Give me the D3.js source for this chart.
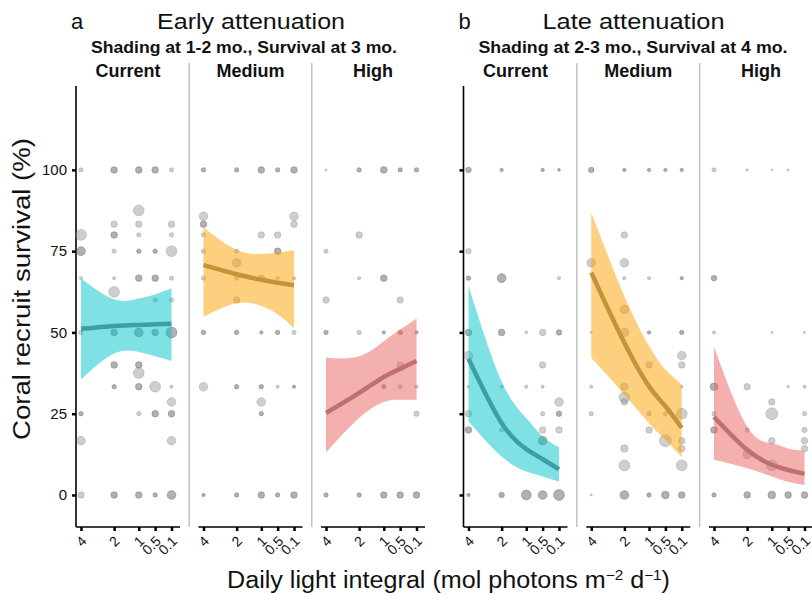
<!DOCTYPE html>
<html>
<head>
<meta charset="utf-8">
<script src="https://cdn.jsdelivr.net/npm/d3@7"></script>
<style>
  body { margin: 0; background: #fff; }
  text { font-family: "Liberation Sans", Arial, Helvetica, sans-serif; fill: #111; }
</style>
</head>
<body>
<div id="vis"></div>
<script>
// ---- data ----
var timings = ["Early attenuation", "Late attenuation"];
var panelLetters = ["a", "b"];
var subtitles = ["Shading at 1-2 mo., Survival at 3 mo.", "Shading at 2-3 mo., Survival at 4 mo."];
var shadeLevels = ["Current", "Medium", "High"];
var dliTicks = [4, 2, 1, 0.5, 0.1];
var survivalTicks = [0, 25, 50, 75, 100];

// fitted survival (%) and 95% band at each value of dliTicks, per shade level
var fitEarly  = [[51.1, 52.0, 52.3, 52.5, 52.7], [70.7, 67.9, 66.2, 65.3, 64.5], [25.2, 31.4, 36.3, 38.8, 41.2]];
var lowEarly  = [[35.5, 43.5, 44.0, 42.7, 41.2], [54.8, 59.0, 58.1, 55.6, 51.4], [13.1, 23.7, 28.6, 29.3, 29.3]];
var highEarly = [[66.6, 60.2, 60.4, 61.7, 63.6], [82.3, 75.4, 74.1, 74.6, 75.3], [42.2, 42.7, 47.3, 50.9, 54.3]];
var fitLate   = [[41.9, 22.1, 14.1, 11.0, 7.9], [68.4, 46.8, 33.4, 27.3, 20.6], [24.0, 13.9, 9.3, 7.7, 6.5]];
var lowLate   = [[22.6, 11.8, 7.2, 5.7, 4.1], [42.2, 30.9, 22.1, 17.0, 11.6], [10.8, 8.2, 5.7, 4.1, 3.1]];
var highLate  = [[64.3, 35.0, 23.7, 18.0, 14.7], [86.9, 61.2, 45.8, 38.6, 34.0], [45.6, 21.1, 15.9, 14.3, 13.6]];

// observed tiles: [dli, survival %, size class, overlapping tiles]
var pointsEarlyCurrent = [
  [4,100,2,1],[2,100,3,2],[1,100,3,2],[0.5,100,3,2],[0.1,100,2,1],
  [1,87.5,5,1],
  [2,83.3,3,1],[1,83.3,3,1],[0.1,83.3,3,1],
  [4,80,5,1],[2,80,3,2],[1,80,2,1],[0.1,80,2,1],
  [4,75,4,2],[2,75,2,1],[1,75,2,2],[0.5,75,2,2],[0.1,75,5,1],
  [4,66.7,1.5,1],[2,66.7,1.5,1],[1,66.7,3,2],[0.5,66.7,3,2],[0.1,66.7,2,1],
  [2,62.5,5,1],
  [0.5,60,2,1],[0.1,60,2,1],
  [4,50,2,1],[2,50,3,2],[1,50,4,2],[0.5,50,3,2],[0.1,50,5,2],
  [2,40,3,2],[1,40,3,2],
  [1,37.5,5,1],
  [2,33.3,2,2],[1,33.3,3,2],[0.5,33.3,5,1],[0.1,33.3,1.5,1],
  [0.1,28.6,4,1],
  [4,25,2,2],[1,25,2,1],[0.5,25,3,2],[0.1,25,3,2],
  [4,16.7,4,1],[0.1,16.7,4,1],
  [4,0,3,1],[2,0,3,2],[1,0,3,2],[0.5,0,2,2],[0.1,0,4,2]
];
var pointsEarlyMedium = [
  [4,100,2,2],[2,100,2,2],[1,100,3,2],[0.5,100,2,2],[0.1,100,3,2],
  [4,85.7,4,1],[0.1,85.7,4,1],
  [4,83.3,3,2],[0.1,83.3,3,1],
  [4,80,2,1],[1,80,3,1],[0.5,80,3,1],
  [4,75,2,1],[2,75,2,1],[0.5,75,3,2],
  [2,71.4,4,1],
  [4,66.7,2,1],[2,66.7,2,1],[1,66.7,3,1],[0.5,66.7,1.5,1],[0.1,66.7,1.5,1],
  [2,60,3,1],
  [4,50,2,2],[2,50,2,2],[1,50,1.5,2],[0.5,50,2,2],[0.1,50,2,1],
  [4,33.3,4,1],[2,33.3,2,2],[1,33.3,2,2],[0.5,33.3,1.5,1],[0.1,33.3,1.5,2],
  [1,28.6,4,1],
  [1,25,2,2],
  [4,0,1.5,2],[2,0,2,2],[1,0,3,2],[0.5,0,2,2],[0.1,0,3,2]
];
var pointsEarlyHigh = [
  [4,100,1,1],[2,100,2,2],[1,100,3,2],[0.5,100,2,2],[0.1,100,2,2],
  [2,80,3,1],
  [4,75,2,1],
  [2,66.7,1.5,1],[1,66.7,3,2],
  [4,60,3,1],[0.5,60,3,1],
  [4,50,2,2],[2,50,2,1],[1,50,1.5,2],[0.5,50,2,2],[0.1,50,1.5,2],
  [0.5,40,3,1],
  [1,33.3,2,2],[0.5,33.3,2,1],[0.1,33.3,1.5,1],
  [0.1,25,2.5,1],
  [4,0,2,2],[2,0,2,2],[1,0,3,2],[0.5,0,3,2],[0.1,0,3,2]
];
var pointsLateCurrent = [
  [4,100,2.5,2],[2,100,1.5,2],[0.5,100,1.5,2],[0.1,100,1.2,2],
  [4,75,2.5,1],
  [4,66.7,2,2],[2,66.7,4,2],[0.1,66.7,1.5,1],
  [4,50,3,2],[2,50,3,2],[1,50,1.2,1],[0.5,50,3,1],[0.1,50,2.5,2],
  [4,42.9,4,1],
  [0.5,40,3,1],
  [4,33.3,1.2,1],[2,33.3,1.5,1],[1,33.3,1.5,1],[0.5,33.3,1.5,1],
  [0.1,28.6,4,1],
  [4,25,3,1],[0.5,25,2,1],[0.1,25,2.5,2],
  [4,20,3,2],[2,20,2,1],[0.5,20,3,1],[0.1,20,3,1],
  [0.5,16.7,4,2],
  [4,0,1.5,2],[2,0,2.5,2],[1,0,4.5,2],[0.5,0,4,2],[0.1,0,5,2]
];
var pointsLateMedium = [
  [4,100,2.5,2],[2,100,1.5,2],[1,100,1.5,2],[0.5,100,1.5,2],[0.1,100,1.5,2],
  [2,80,3,1],
  [4,71.4,4,1],[2,71.4,4,1],
  [2,66.7,1.5,1],[1,66.7,1.5,1],[0.1,66.7,1.5,2],
  [2,57.1,4,1],
  [4,50,1,1],[2,50,4,1],[1,50,1.5,2],[0.1,50,2,2],
  [0.1,42.9,4,1],
  [1,40,3,1],[0.1,40,3,1],
  [4,33.3,1.5,1],[2,33.3,3.5,1],[1,33.3,1.5,1],[0.1,33.3,1.2,1],
  [2,30,5,1],
  [2,28.6,3,1],
  [4,25,2,1],[1,25,2,1],[0.5,25,2,1],[0.1,25,5,1],
  [1,20,3,1],
  [0.5,16.7,5.5,1],[0.1,16.7,3,1],
  [2,14.3,3.5,1],[0.1,14.3,3,1],
  [2,9.1,5,1],[0.1,9.1,5,1],
  [4,0,1,1],[2,0,4,2],[1,0,2,2],[0.5,0,3.5,2],[0.1,0,3,2]
];
var pointsLateHigh = [
  [4,100,2,1],[2,100,1,1],[1,100,0.8,1],[0.5,100,1,1],
  [4,66.7,2.5,2],
  [4,50,1.5,1],[1,50,1,1],[0.1,50,1,1],
  [4,33.3,3.5,2],[2,33.3,3,1],[0.5,33.3,1.2,1],[0.1,33.3,1.5,1],
  [1,28.6,3,1],
  [4,25,2,1],[1,25,5.5,1],[0.1,25,2,1],
  [4,20,3,2],[2,20,2,1],[0.1,20,2.5,1],
  [1,16.7,3,1],[0.1,16.7,3,1],
  [0.1,14.3,3,1],
  [2,12.5,4,1],
  [1,9.1,5,1],
  [4,0,2,2],[2,0,3,2],[1,0,3.5,2],[0.5,0,3,2],[0.1,0,3,2]
];

var pointSets = [
  [pointsEarlyCurrent, pointsEarlyMedium, pointsEarlyHigh],
  [pointsLateCurrent, pointsLateMedium, pointsLateHigh]
];
var fits = [[fitEarly, lowEarly, highEarly], [fitLate, lowLate, highLate]];

var bandColors = ["#00c4c9", "#fba100", "#e95f5f"];
var lineColors = ["#3c9fa1", "#c6923a", "#bf7070"];

// ---- layout ----
var width = 812, height = 595;
var groupLeft = [76, 463.5];
var panelStep = [122.5, 122.75];
var panelWidth = 104;
var plotTop = 86, plotBottom = 527;

var svg = d3.select("#vis").append("svg")
    .attr("width", width)
    .attr("height", height);

var y = d3.scaleLinear().domain([-9.85, 125.8]).range([plotBottom, plotTop]);
var r = d3.scaleLinear().domain([1, 5]).range([1.1, 5.4]);
var smooth = d3.curveNatural;

var line = function(x, vals) {
    return d3.line()
        .x(function(d, i) { return x(dliTicks[i]); })
        .y(function(d) { return y(d); })
        .curve(smooth)(vals);
};

timings.forEach(function(title, t) {
    var gl = groupLeft[t];

    // panel letter, title and subtitle
    svg.append("text").attr("x", gl + 1).attr("y", 29)
        .attr("text-anchor", "middle").style("font-size", "22px").text(panelLetters[t]);
    svg.append("text").attr("x", t == 0 ? 251 : 633.5).attr("y", 29)
        .attr("text-anchor", "middle").style("font-size", "22px")
        .attr("textLength", t == 0 ? 188 : 182).attr("lengthAdjust", "spacingAndGlyphs")
        .text(title);
    svg.append("text").attr("x", t == 0 ? 244 : 633).attr("y", 53)
        .attr("text-anchor", "middle").style("font-size", "16px").style("font-weight", "bold")
        .attr("textLength", t == 0 ? 306 : 309).attr("lengthAdjust", "spacingAndGlyphs")
        .text(subtitles[t]);

    // y axis
    var yAxis = d3.axisLeft(y).tickValues(survivalTicks).tickSize(4).tickPadding(5)
        .tickFormat(t == 0 ? d3.format("d") : "");
    var yg = svg.append("g").attr("transform", "translate(" + gl + ",0)").call(yAxis);
    yg.select(".domain").remove();
    yg.selectAll(".tick line").attr("stroke", "#000").attr("stroke-width", 2.5);
    yg.selectAll(".tick text").style("font-size", "15px").style("font-family", "Liberation Sans, Arial, sans-serif").attr("fill", "#222");
    svg.append("line").attr("x1", gl).attr("x2", gl)
        .attr("y1", plotTop).attr("y2", plotBottom)
        .attr("stroke", "#000").attr("stroke-width", 1.6);

    shadeLevels.forEach(function(shade, s) {
        var left = gl + s * panelStep[t];
        var x = d3.scaleSymlog().constant(1.5).domain([4, 0.1]).range([left + 5, left + 95.5]);

        // strip label
        svg.append("text").attr("x", left + panelWidth / 2).attr("y", 77)
            .attr("text-anchor", "middle").style("font-size", "18px").style("font-weight", "bold")
            .text(shade);

        // separator between panels
        if (s < 2) {
            var sx = left + panelWidth + (panelStep[t] - panelWidth) / 2;
            svg.append("line").attr("x1", sx).attr("x2", sx)
                .attr("y1", 63).attr("y2", plotBottom)
                .attr("stroke", "#c4c4c4").attr("stroke-width", 1.6);
        }

        // observed points (overlapping tiles drawn on top of each other)
        var pts = [];
        pointSets[t][s].forEach(function(p) {
            for (var k = 0; k < p[3]; k++) pts.push(p);
        });
        svg.append("g").selectAll("circle")
            .data(pts).enter().append("circle")
            .attr("cx", function(d) { return x(d[0]); })
            .attr("cy", function(d) { return y(d[1]); })
            .attr("r", function(d) { return r(d[2]); })
            .attr("fill", "#8a8a8a").attr("fill-opacity", 0.42)
            .attr("stroke", "#777").attr("stroke-opacity", 0.4).attr("stroke-width", 0.7);

        // confidence band and fitted curve
        var fit = fits[t][0][s], lo = fits[t][1][s], hi = fits[t][2][s];
        var area = d3.area()
            .x(function(d, i) { return x(dliTicks[i]); })
            .y0(function(d, i) { return y(lo[i]); })
            .y1(function(d, i) { return y(hi[i]); })
            .curve(smooth);
        svg.append("path").attr("d", area(fit))
            .attr("fill", bandColors[s]).attr("fill-opacity", 0.5);
        svg.append("path").attr("d", line(x, fit))
            .attr("fill", "none").attr("stroke", lineColors[s])
            .attr("stroke-width", 4.5).attr("stroke-linecap", "butt");

        // x axis
        var xAxis = d3.axisBottom(x).tickValues(dliTicks).tickSize(4).tickFormat(d3.format("~g"));
        var xg = svg.append("g").attr("transform", "translate(0," + plotBottom + ")").call(xAxis);
        xg.select(".domain").remove();
        xg.selectAll(".tick line").attr("stroke", "#000").attr("stroke-width", 2.5);
        xg.selectAll(".tick text")
            .attr("y", 0).attr("dy", 0)
            .attr("text-anchor", "end")
            .attr("transform", "translate(6,15) rotate(-45)")
            .style("font-size", "14px").style("font-family", "Liberation Sans, Arial, sans-serif")
            .attr("fill", "#222");
        svg.append("line").attr("x1", left).attr("x2", left + panelWidth)
            .attr("y1", plotBottom).attr("y2", plotBottom)
            .attr("stroke", "#000").attr("stroke-width", 1.6);
    });
});

// axis titles
var xTitle = svg.append("text").attr("x", 448.5).attr("y", 588)
    .attr("text-anchor", "middle").style("font-size", "23px")
    .attr("textLength", 443).attr("lengthAdjust", "spacingAndGlyphs");
xTitle.append("tspan").text("Daily light integral (mol photons m");
xTitle.append("tspan").attr("dy", -8).style("font-size", "14px").text("\u22122");
xTitle.append("tspan").attr("dy", 8).text(" d");
xTitle.append("tspan").attr("dy", -8).style("font-size", "14px").text("\u22121");
xTitle.append("tspan").attr("dy", 8).text(")");

svg.append("text")
    .attr("transform", "translate(30,289) rotate(-90)")
    .attr("text-anchor", "middle").style("font-size", "23px")
    .attr("textLength", 302).attr("lengthAdjust", "spacingAndGlyphs")
    .text("Coral recruit survival (%)");
</script>
</body>
</html>
